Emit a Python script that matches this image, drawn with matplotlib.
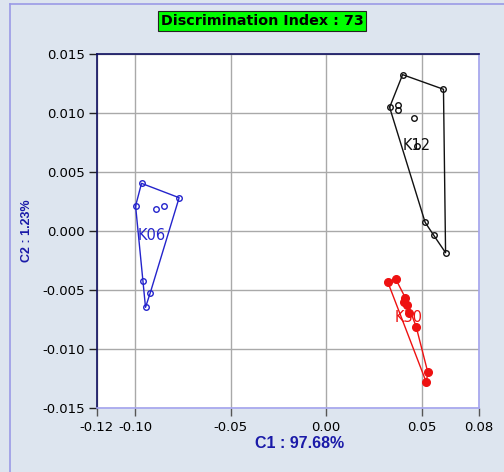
import matplotlib
matplotlib.use("Agg")
import matplotlib.pyplot as plt
from matplotlib.lines import Line2D
import numpy as np

# ---------------- data ----------------
group_names = ["K06", "K12", "K30"]

k06_x = [-0.0967, -0.0770, -0.0998, -0.0890, -0.0848, -0.0957, -0.0921, -0.0946]
k06_y = [0.00404, 0.00282, 0.00212, 0.00186, 0.00212, -0.00421, -0.00523, -0.00647]

k12_x = [0.0400, 0.0614, 0.0332, 0.0375, 0.0375, 0.0461, 0.0475, 0.0518, 0.0562, 0.0625]
k12_y = [0.01325, 0.01201, 0.01048, 0.01070, 0.01025, 0.00960, 0.00720, 0.00073, -0.00034, -0.00184]

k30_x = [0.0323, 0.0365, 0.0414, 0.0405, 0.0422, 0.0431, 0.0471, 0.0532, 0.0524]
k30_y = [-0.00435, -0.00410, -0.00565, -0.00599, -0.00627, -0.00698, -0.00811, -0.01198, -0.01282]

x_ticks = [-0.12, -0.10, -0.05, 0.00, 0.05, 0.08]
y_ticks = [-0.015, -0.010, -0.005, 0.000, 0.005, 0.010, 0.015]

title_text = "Discrimination Index : 73"
x_label = "C1 : 97.68%"
y_label = "C2 : 1.23%"

# ---------------- helpers ----------------
def convex_hull(xs, ys):
    pts = sorted(set(zip(xs, ys)))
    def cross(o, a, b):
        return (a[0]-o[0])*(b[1]-o[1]) - (a[1]-o[1])*(b[0]-o[0])
    lower = []
    for p in pts:
        while len(lower) >= 2 and cross(lower[-2], lower[-1], p) <= 0:
            lower.pop()
        lower.append(p)
    upper = []
    for p in reversed(pts):
        while len(upper) >= 2 and cross(upper[-2], upper[-1], p) <= 0:
            upper.pop()
        upper.append(p)
    hull = lower[:-1] + upper[:-1]
    hull.append(hull[0])
    return [p[0] for p in hull], [p[1] for p in hull]

# ---------------- figure ----------------
bg = "#dde5ef"
fig = plt.figure(figsize=(5.04, 4.72), dpi=100, facecolor=bg)
W, H = 504, 472

# panel border (left and top)
fig.add_artist(Line2D([10/W, 10/W], [0, 1 - 4/H], transform=fig.transFigure, color="#9a9ae6", lw=1.2))
fig.add_artist(Line2D([10/W, 1], [1 - 4/H, 1 - 4/H], transform=fig.transFigure, color="#9a9ae6", lw=1.2))

ax = fig.add_axes([97/W, 1 - 408/H, (479-97)/W, (408-54)/H])
ax.set_facecolor("white")
ax.set_xlim(-0.12, 0.08)
ax.set_ylim(-0.015, 0.015)

ax.set_xticks(x_ticks)
ax.set_xticklabels([f"{v:.2f}" for v in x_ticks])
ax.set_yticks(y_ticks)
ax.set_yticklabels([f"{v:.3f}" for v in y_ticks])
ax.tick_params(axis="both", direction="out", length=6, width=1, labelsize=9.5,
               labelcolor="black", pad=3.5)
ax.tick_params(axis="x", colors="#555555", labelcolor="black")
ax.tick_params(axis="y", colors="#222222", labelcolor="black", pad=2.5)

ax.grid(True, color="#a9a9a9", lw=1)
ax.set_axisbelow(True)

for side, col in [("left", "#101060"), ("top", "#101060"), ("right", "#a4a4ee"), ("bottom", "#a4a4ee")]:
    ax.spines[side].set_color(col)
    ax.spines[side].set_linewidth(1.2)

groups = [
    (k06_x, k06_y, "#2424cc", False),
    (k12_x, k12_y, "#111111", False),
    (k30_x, k30_y, "#ee1111", True),
]
for name, (gx, gy, col, filled) in zip(group_names, groups):
    hx, hy = convex_hull(gx, gy)
    ax.plot(hx, hy, color=col, lw=1, zorder=3)
    if filled:
        ax.plot(gx, gy, "o", color=col, ms=5.5, zorder=4)
    else:
        ax.plot(gx, gy, "o", mfc="none", mec=col, mew=1, ms=4, zorder=4)
    ax.text(np.mean(gx), np.mean(gy), name, color=col, fontsize=10.5,
            ha="center", va="center", zorder=5)

ax.set_xlabel(x_label, color="#1a1aa8", fontsize=11.5, fontweight="bold",
              family=["Liberation Sans", "DejaVu Sans"])
ax.xaxis.set_label_coords(0.531, -0.078)
ax.set_ylabel(y_label, color="#1a1aa8", fontsize=9, fontweight="bold",
              family=["Liberation Sans", "DejaVu Sans"])
ax.yaxis.set_label_coords(-0.168, 0.5)

fig.text(262/W, 1 - 21/H, title_text, ha="center", va="center", fontsize=10.3,
         fontweight="bold", color="black",
         bbox=dict(boxstyle="square,pad=0.18", fc="#00ff00", ec="#222222", lw=0.8))

fig.savefig("out.png", dpi=100, facecolor=bg)
